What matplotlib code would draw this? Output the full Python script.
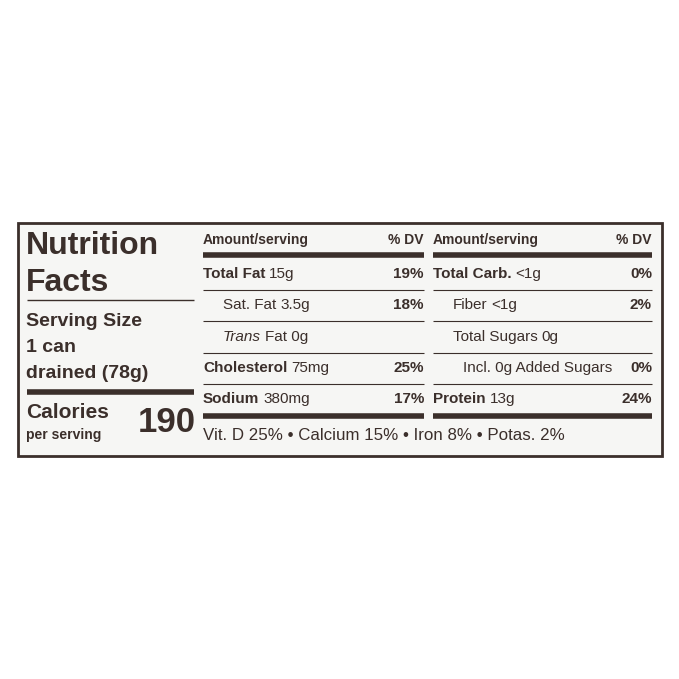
import matplotlib
matplotlib.use("Agg")
import matplotlib.pyplot as plt

C = "#3b2f2b"
FN = ["Liberation Sans", "DejaVu Sans"]
FB = ["Liberation Sans", "DejaVu Sans"]

left_names = ["Total Fat", "Sat. Fat", "Trans", "Cholesterol", "Sodium"]
left_amts = ["15g", "3.5g", "Fat 0g", "75mg", "380mg"]
left_dv = ["19%", "18%", "", "25%", "17%"]
left_bold = [True, False, False, True, True]
left_indent = [0, 1, 1, 0, 0]

right_names = ["Total Carb.", "Fiber", "Total Sugars", "Incl. 0g Added Sugars", "Protein"]
right_amts = ["<1g", "<1g", "0g", "", "13g"]
right_dv = ["0%", "2%", "", "0%", "24%"]
right_bold = [True, False, False, False, True]
right_indent = [0, 1, 1, 1.5, 0]

vitamins = "Vit. D 25% • Calcium 15% • Iron 8% • Potas. 2%"
calories = "190"

fig = plt.figure(figsize=(6.79, 6.79), dpi=100)
ax = fig.add_axes([0, 0, 1, 1])
ax.set_xlim(0, 679); ax.set_ylim(679, 0); ax.axis("off")

ax.add_patch(plt.Rectangle((18, 223), 644, 233, fc="#f6f6f4", ec=C, lw=2))

def t(x, y, s, size, bold=False, ha="left", fam=FN, style="normal"):
    return ax.text(x, y, s, fontsize=size, fontweight="bold" if bold else "normal",
                   ha=ha, va="center", color=C, family=fam, style=style)

def hl(x0, x1, y, lw):
    ax.plot([x0, x1], [y, y], color=C, lw=lw, solid_capstyle="butt")

def right_edge(txt):
    fig.canvas.draw()
    bb = txt.get_window_extent()
    return ax.transData.inverted().transform((bb.x1, bb.y0))[0]

# left panel
t(26, 246, "Nutrition", 23, True, fam=FB)
t(26, 283, "Facts", 23, True, fam=FB)
hl(27, 194, 300, 1)
t(26, 321, "Serving Size", 14, True, fam=FB)
t(26, 347, "1 can", 14, True, fam=FB)
t(26, 373, "drained (78g)", 14, True, fam=FB)
hl(27, 194, 392, 4)
t(26, 413, "Calories", 15, True, fam=FB)
t(26, 435, "per serving", 10, True, fam=FB)
t(196, 423, calories, 25, True, ha="right", fam=FB)

FS = 11
rows_y = [274, 305, 337, 368, 399]
def column(x0, x1, names, amts, dvs, bolds, indents):
    t(x0, 240, "Amount/serving", 10, True)
    t(x1, 240, "% DV", 10, True, ha="right")
    hl(x0, x1, 255, 4)
    for i, y in enumerate(rows_y):
        x = x0 + indents[i] * 20
        style = "italic" if names[i] == "Trans" else "normal"
        tx = t(x, y, names[i], FS, bolds[i], style=style)
        if amts[i]:
            t(right_edge(tx) + 4, y, amts[i], FS)
        if dvs[i]:
            t(x1, y, dvs[i], FS, True, ha="right")
        if i < 4:
            hl(x0, x1, y + 15.5, 0.8)
    hl(x0, x1, 416, 4)

column(203, 424, left_names, left_amts, left_dv, left_bold, left_indent)
column(433, 652, right_names, right_amts, right_dv, right_bold, right_indent)
ax.text(203, 436, vitamins, fontsize=12.2, va="center", ha="left", color=C, family=FN)

fig.savefig("out.png", dpi=100)
